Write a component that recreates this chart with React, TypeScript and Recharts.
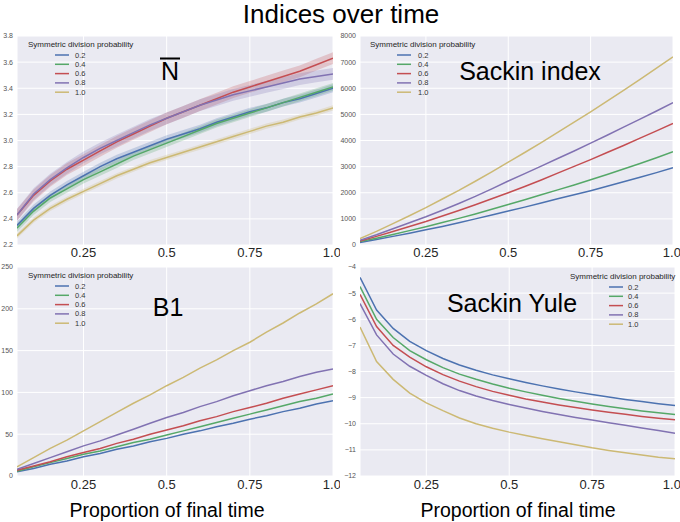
import React from 'react';
import { ComposedChart, Line, Area, XAxis, YAxis, CartesianGrid } from 'recharts';

// ---- data ----
const X = [0.05, 0.1, 0.15, 0.2, 0.25, 0.3, 0.35, 0.4, 0.45, 0.5, 0.55, 0.6, 0.65, 0.7, 0.75, 0.8, 0.85, 0.9, 0.95, 1.0];
const SERIES = ['0.2', '0.4', '0.6', '0.8', '1.0'];
const COLORS = ['#4C72B0', '#55A868', '#C44E52', '#8172B2', '#CCB974'];
const X_TICKS = [0.25, 0.5, 0.75, 1.0];

const NBAR_02 = [2.35, 2.48, 2.58, 2.66, 2.73, 2.80, 2.86, 2.91, 2.96, 3.01, 3.05, 3.09, 3.14, 3.18, 3.22, 3.25, 3.29, 3.32, 3.36, 3.40];
const NBAR_04 = [2.33, 2.46, 2.56, 2.63, 2.70, 2.76, 2.82, 2.88, 2.93, 2.98, 3.03, 3.08, 3.13, 3.17, 3.21, 3.25, 3.29, 3.33, 3.37, 3.41];
const NBAR_06 = [2.43, 2.58, 2.69, 2.78, 2.85, 2.92, 2.99, 3.05, 3.11, 3.17, 3.22, 3.27, 3.32, 3.37, 3.41, 3.45, 3.49, 3.53, 3.58, 3.63];
const NBAR_08 = [2.43, 2.59, 2.70, 2.79, 2.87, 2.94, 3.00, 3.06, 3.12, 3.17, 3.22, 3.27, 3.31, 3.35, 3.38, 3.41, 3.44, 3.47, 3.49, 3.51];
const NBAR_10 = [2.27, 2.39, 2.48, 2.55, 2.61, 2.67, 2.73, 2.78, 2.83, 2.87, 2.91, 2.95, 2.99, 3.03, 3.07, 3.11, 3.14, 3.18, 3.21, 3.25];
const NBAR_CI = [0.03, 0.03, 0.045, 0.045, 0.02];
const NBAR_TICKS = [2.2, 2.4, 2.6, 2.8, 3.0, 3.2, 3.4, 3.6, 3.8];

const SACKIN_02 = [100, 210, 330, 450, 580, 710, 850, 1000, 1150, 1300, 1450, 1610, 1770, 1920, 2080, 2250, 2420, 2590, 2770, 2960];
const SACKIN_04 = [130, 260, 400, 550, 700, 860, 1020, 1190, 1370, 1550, 1730, 1920, 2110, 2300, 2500, 2700, 2910, 3120, 3340, 3570];
const SACKIN_06 = [150, 330, 520, 710, 900, 1110, 1320, 1540, 1770, 2000, 2240, 2490, 2750, 3010, 3270, 3540, 3810, 4090, 4370, 4650];
const SACKIN_08 = [180, 390, 620, 850, 1080, 1330, 1590, 1860, 2150, 2450, 2730, 3020, 3310, 3600, 3900, 4200, 4510, 4820, 5130, 5450];
const SACKIN_10 = [250, 520, 820, 1120, 1430, 1760, 2090, 2440, 2800, 3170, 3540, 3920, 4310, 4700, 5100, 5510, 5920, 6340, 6770, 7200];
const SACKIN_TICKS = [0, 1000, 2000, 3000, 4000, 5000, 6000, 7000, 8000];

const B1_02 = [5, 9, 14, 18, 23, 27, 32, 36, 41, 45, 50, 54, 59, 63, 68, 72, 77, 81, 86, 90];
const B1_04 = [5.5, 11, 16, 21, 26, 30, 35, 40, 44, 49, 54, 59, 64, 69, 74, 79, 84, 89, 93, 98];
const B1_06 = [7, 12, 17, 23, 28, 33, 39, 44, 50, 55, 60, 66, 71, 77, 82, 87, 93, 98, 103, 108];
const B1_08 = [8, 15, 22, 29, 36, 42, 49, 56, 63, 70, 76, 83, 89, 96, 102, 108, 113, 119, 124, 128];
const B1_10 = [11, 22, 33, 43, 54, 65, 76, 87, 97, 108, 118, 129, 139, 150, 160, 172, 183, 195, 206, 218];
const B1_TICKS = [0, 50, 100, 150, 200, 250];

const YULE_02 = [-4.4, -5.65, -6.35, -6.85, -7.2, -7.5, -7.75, -7.95, -8.13, -8.28, -8.42, -8.55, -8.67, -8.78, -8.88, -8.98, -9.07, -9.15, -9.23, -9.3];
const YULE_04 = [-4.75, -6.0, -6.7, -7.2, -7.55, -7.85, -8.1, -8.3, -8.48, -8.64, -8.78, -8.91, -9.03, -9.14, -9.24, -9.34, -9.43, -9.51, -9.58, -9.65];
const YULE_06 = [-5.05, -6.28, -7.0, -7.45, -7.82, -8.12, -8.37, -8.58, -8.76, -8.91, -9.05, -9.17, -9.28, -9.38, -9.47, -9.56, -9.64, -9.72, -9.79, -9.85];
const YULE_08 = [-5.4, -6.6, -7.33, -7.8, -8.15, -8.47, -8.73, -8.94, -9.11, -9.26, -9.4, -9.53, -9.65, -9.76, -9.86, -9.96, -10.06, -10.16, -10.26, -10.36];
const YULE_10 = [-6.3, -7.62, -8.3, -8.83, -9.2, -9.5, -9.78, -10.0, -10.17, -10.32, -10.45, -10.57, -10.69, -10.8, -10.92, -11.02, -11.11, -11.2, -11.28, -11.34];
const YULE_TICKS = [-12, -11, -10, -9, -8, -7, -6, -5, -4];

const TITLE = 'Indices over time';
const LEGEND_TITLE = 'Symmetric division probability';
const X_LABEL = 'Proportion of final time';

// ---- table builder ----
function buildTable(series: number[][], ci?: number[]) {
  return X.map((x, i) => {
    const row: any = { x };
    series.forEach((s, k) => {
      row['s' + k] = s[i];
      if (ci) row['b' + k] = [s[i] - ci[k], s[i] + ci[k]];
    });
    return row;
  });
}

const nbarData = buildTable([NBAR_02, NBAR_04, NBAR_06, NBAR_08, NBAR_10], NBAR_CI);
const sackinData = buildTable([SACKIN_02, SACKIN_04, SACKIN_06, SACKIN_08, SACKIN_10]);
const b1Data = buildTable([B1_02, B1_04, B1_06, B1_08, B1_10]);
const yuleData = buildTable([YULE_02, YULE_04, YULE_06, YULE_08, YULE_10]);

const FONT = '"Liberation Sans", Arial, Helvetica, sans-serif';
const fmtX = (v: number) => (v === 1 ? '1.0' : String(v));

type PanelProps = {
  data: any[];
  ticks: number[];
  fmtY: (v: number) => string;
  left: number; top: number; width: number; height: number;
  margin: { top: number; right: number; bottom: number; left: number };
  yWidth: number;
  xTickMargin: number;
  bands?: boolean;
};

function Panel(p: PanelProps) {
  return (
    <div style={{ position: 'absolute', left: p.left, top: p.top }}>
      <ComposedChart width={p.width} height={p.height} data={p.data} margin={p.margin}>
        <CartesianGrid stroke="#ffffff" strokeWidth={1} fill="#EAEAF2" fillOpacity={1} />
        <XAxis
          dataKey="x"
          type="number"
          domain={[0.05, 1]}
          ticks={X_TICKS}
          tickFormatter={fmtX}
          axisLine={false}
          tickLine={false}
          tickSize={0}
          tickMargin={p.xTickMargin}
          height={20}
          tick={{ fontSize: 13, fill: '#262626', fontFamily: FONT }}
          allowDataOverflow
        />
        <YAxis
          type="number"
          domain={[p.ticks[0], p.ticks[p.ticks.length - 1]]}
          ticks={p.ticks}
          tickFormatter={p.fmtY}
          axisLine={false}
          tickLine={false}
          tickSize={0}
          tickMargin={4}
          width={p.yWidth}
          interval={0}
          tick={{ fontSize: 7, fill: '#555555', fontFamily: FONT }}
          allowDataOverflow
        />
        {p.bands &&
          SERIES.map((s, k) => (
            <Area
              key={'b' + k}
              dataKey={'b' + k}
              type="linear"
              stroke="none"
              fill={COLORS[k]}
              fillOpacity={0.25}
              isAnimationActive={false}
              dot={false}
              activeDot={false}
            />
          ))}
        {SERIES.map((s, k) => (
          <Line
            key={'s' + k}
            dataKey={'s' + k}
            type="linear"
            stroke={COLORS[k]}
            strokeWidth={1.5}
            dot={false}
            activeDot={false}
            isAnimationActive={false}
          />
        ))}
      </ComposedChart>
    </div>
  );
}

function Legend({ x, y, lineX, textX }: { x: number; y: number; lineX: number; textX: number }) {
  return (
    <g>
      <text x={x} y={y} fontSize={8} fill="#262626" fontFamily={FONT} dominantBaseline="central">
        {LEGEND_TITLE}
      </text>
      {SERIES.map((s, k) => {
        const yy = y + 11 + k * 9.3;
        return (
          <g key={s}>
            <line x1={lineX} x2={lineX + 14} y1={yy} y2={yy} stroke={COLORS[k]} strokeWidth={1.5} />
            <text x={textX} y={yy} fontSize={7.5} fill="#333333" fontFamily={FONT} dominantBaseline="central">
              {s}
            </text>
          </g>
        );
      })}
    </g>
  );
}

export default function App() {
  return (
    <div style={{ position: 'absolute', left: 0, top: 0, width: 680, height: 522, background: '#ffffff', overflow: 'hidden' }}>
      <Panel
        data={nbarData}
        ticks={NBAR_TICKS}
        fmtY={(v) => v.toFixed(1)}
        left={0} top={30} width={340} height={235}
        margin={{ top: 6, right: 7, bottom: 0, left: 0 }}
        yWidth={17}
        xTickMargin={3}
        bands
      />
      <Panel
        data={sackinData}
        ticks={SACKIN_TICKS}
        fmtY={(v) => String(v)}
        left={340} top={30} width={340} height={235}
        margin={{ top: 6, right: 7, bottom: 0, left: 0 }}
        yWidth={20}
        xTickMargin={3}
      />
      <Panel
        data={b1Data}
        ticks={B1_TICKS}
        fmtY={(v) => String(v)}
        left={0} top={262} width={340} height={234}
        margin={{ top: 5, right: 7, bottom: 0, left: 0 }}
        yWidth={17}
        xTickMargin={4}
      />
      <Panel
        data={yuleData}
        ticks={YULE_TICKS}
        fmtY={(v) => String(v).replace('-', '\u2212')}
        left={340} top={262} width={340} height={234}
        margin={{ top: 5, right: 5, bottom: 0, left: 0 }}
        yWidth={20}
        xTickMargin={4}
      />
      <svg width={680} height={522} style={{ position: 'absolute', left: 0, top: 0, pointerEvents: 'none' }}>
        <text x={341} y={23} textAnchor="middle" fontSize={26} fill="#000" fontFamily={FONT}>
          {TITLE}
        </text>
        {/* panel titles */}
        <text x={170} y={80} textAnchor="middle" fontSize={25} fill="#000" fontFamily={FONT}>N</text>
        <line x1={160} x2={180} y1={58.5} y2={58.5} stroke="#000" strokeWidth={2} />
        <text x={530} y={80} textAnchor="middle" fontSize={25} fill="#000" fontFamily={FONT}>Sackin index</text>
        <text x={168} y={316} textAnchor="middle" fontSize={25} fill="#000" fontFamily={FONT}>B1</text>
        <text x={512} y={312} textAnchor="middle" fontSize={25} fill="#000" fontFamily={FONT}>Sackin Yule</text>
        {/* legends */}
        <Legend x={28} y={44} lineX={55} textX={75} />
        <Legend x={370} y={44} lineX={397} textX={418} />
        <Legend x={28} y={275} lineX={55} textX={75} />
        <Legend x={570} y={276} lineX={609} textX={628} />
        {/* x labels */}
        <text x={167} y={517} textAnchor="middle" fontSize={19.5} fill="#000" fontFamily={FONT}>{X_LABEL}</text>
        <text x={518} y={517} textAnchor="middle" fontSize={19.5} fill="#000" fontFamily={FONT}>{X_LABEL}</text>
      </svg>
    </div>
  );
}
